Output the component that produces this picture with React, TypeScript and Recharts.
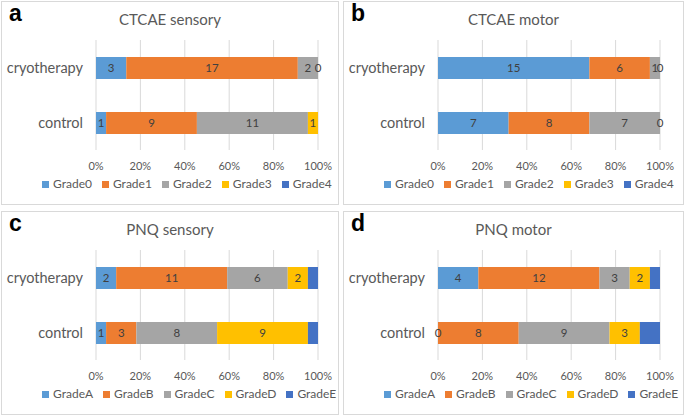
import { Bar, BarChart, CartesianGrid, LabelList, Legend, XAxis, YAxis } from "recharts";

const COLORS = ["#5B9BD5", "#ED7D31", "#A5A5A5", "#FFC000", "#4472C4"];
const FONT = "Lato, 'Open Sans', sans-serif";

const categories = ["cryotherapy", "control"];
const ctcaeGrades = ["Grade0", "Grade1", "Grade2", "Grade3", "Grade4"];
const pnqGrades = ["GradeA", "GradeB", "GradeC", "GradeD", "GradeE"];
const xTicks = [0, 0.2, 0.4, 0.6, 0.8, 1];

const ctcaeSensoryCryo = [3, 17, 2, 0, 0];
const ctcaeSensoryControl = [1, 9, 11, 1, 0];
const ctcaeMotorCryo = [15, 6, 1, 0, 0];
const ctcaeMotorControl = [7, 8, 7, 0, 0];
const pnqSensoryCryo = [2, 11, 6, 2, 1];
const pnqSensoryControl = [1, 3, 8, 9, 1];
const pnqMotorCryo = [4, 12, 3, 2, 1];
const pnqMotorControl = [0, 8, 9, 3, 2];

function buildRows(series: string[], cryo: number[], control: number[]) {
  return categories.map((name, i) => {
    const vals = i === 0 ? cryo : control;
    const row: Record<string, string | number> = { name };
    series.forEach((s, j) => (row[s] = vals[j]));
    return row;
  });
}

const pct = (v: number) => `${Math.round(v * 100)}%`;

function Panel({ letter, title, series, cryo, control, left, top, width }: {
  letter: string; title: string; series: string[]; cryo: number[]; control: number[];
  left: number; top: number; width: number;
}) {
  const data = buildRows(series, cryo, control);
  const height = 204;
  return (
    <div style={{ position: "absolute", left, top, width, height, border: "1px solid #d9d9d9", boxSizing: "border-box", background: "#fff" }}>
      <div style={{ position: "absolute", left: 7, top: -2, fontFamily: "'Liberation Sans', Arial, sans-serif", fontWeight: 700, fontSize: 23, color: "#000" }}>{letter}</div>
      <div style={{ position: "absolute", left: 0, width: "100%", top: 8, textAlign: "center", fontFamily: FONT, fontSize: 15, color: "#595959" }}>{title}</div>
      <BarChart width={width - 2} height={height - 2} data={data} layout="vertical" stackOffset="expand"
        margin={{ top: 38, right: width - 318, bottom: 16, left: 0 }} barCategoryGap={16}>
        <CartesianGrid horizontal={false} stroke="#d9d9d9" />
        <XAxis type="number" domain={[0, 1]} ticks={xTicks} tickFormatter={pct} axisLine={false} tickLine={false}
          tick={{ fill: "#595959", fontSize: 11, fontFamily: FONT }} height={22} tickMargin={6} />
        <YAxis type="category" dataKey="name" width={94} axisLine={false} tickLine={false}
          tick={{ fill: "#595959", fontSize: 14.5, fontFamily: FONT }} tickMargin={7} />
        <Legend verticalAlign="bottom" align="left" iconType="square" iconSize={7} height={16}
          wrapperStyle={{ left: 40, bottom: 12, fontFamily: FONT, fontSize: 12, lineHeight: "16px" }}
          formatter={(v: string) => <span style={{ color: "#595959" }}>{v}</span>} />
        {series.map((s, j) => (
          <Bar key={s} dataKey={s} stackId="a" fill={COLORS[j]} barSize={22} minPointSize={0.01} isAnimationActive={false}>
            {j < 4 && <LabelList dataKey={s} position="center" fill="#404040" fontSize={11.5} fontFamily={FONT} />}
          </Bar>
        ))}
      </BarChart>
    </div>
  );
}

export default function App() {
  return (
    <div style={{ position: "fixed", left: 0, top: 0, width: 685, height: 418, background: "#fff" }}>
      <Panel letter="a" title="CTCAE sensory" series={ctcaeGrades} cryo={ctcaeSensoryCryo} control={ctcaeSensoryControl} left={1} top={1} width={338} />
      <Panel letter="b" title="CTCAE motor" series={ctcaeGrades} cryo={ctcaeMotorCryo} control={ctcaeMotorControl} left={343} top={1} width={341} />
      <Panel letter="c" title="PNQ sensory" series={pnqGrades} cryo={pnqSensoryCryo} control={pnqSensoryControl} left={1} top={211} width={338} />
      <Panel letter="d" title="PNQ motor" series={pnqGrades} cryo={pnqMotorCryo} control={pnqMotorControl} left={343} top={211} width={341} />
    </div>
  );
}
